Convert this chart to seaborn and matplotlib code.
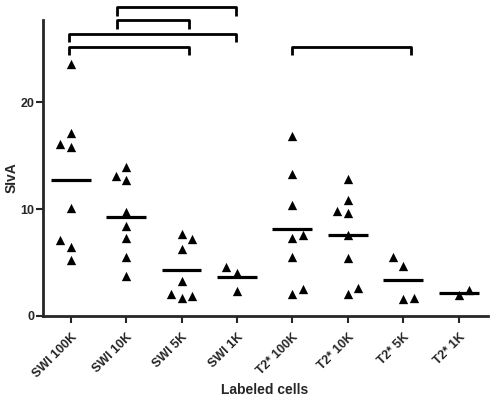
import numpy as np
import pandas as pd
import seaborn as sns
import matplotlib.pyplot as plt

groups = ['SWI 100K', 'SWI 10K', 'SWI 5K', 'SWI 1K',
          'T2* 100K', 'T2* 10K', 'T2* 5K', 'T2* 1K']

swi_100k = [23.6, 17.1, 16.1, 15.8, 10.1, 7.1, 6.5, 5.2]
swi_10k = [13.9, 13.1, 12.7, 9.7, 8.4, 7.3, 5.5, 3.7]
swi_5k = [7.7, 7.2, 6.3, 3.3, 2.1, 1.65, 1.9]
swi_1k = [4.6, 4.05, 2.3]
t2_100k = [16.85, 13.3, 10.35, 7.26, 7.6, 5.5, 2.05, 2.5]
t2_10k = [12.8, 10.9, 9.85, 9.6, 7.55, 5.4, 2.1, 2.65]
t2_5k = [5.5, 4.7, 1.55, 1.7]
t2_1k = [1.96, 2.43]

# column-scatter slot of each point (-1 left, 0 centre, 1 right)
swi_100k_slot = [0, 0, -1, 0, 0, -1, 0, 0]
swi_10k_slot = [0, -1, 0, 0, 0, 0, 0, 0]
swi_5k_slot = [0, 1, 0, 0, -1, 0, 1]
swi_1k_slot = [-1, 0, 0]
t2_100k_slot = [0, 0, 0, 0, 1, 0, 0, 1]
t2_10k_slot = [0, 0, -1, 0, 0, 0, 0, 1]
t2_5k_slot = [-1, 0, 0, 1]
t2_1k_slot = [0, 1]

# significance brackets: (x start, x end, y bar, y leg end)
brackets = [
    (0.84, 2.99, 28.9, 28.1),
    (0.84, 2.13, 27.7, 26.9),
    (-0.03, 2.99, 26.4, 25.6),
    (-0.03, 2.13, 25.2, 24.4),
    (3.99, 6.14, 25.2, 24.4),
]

values = [swi_100k, swi_10k, swi_5k, swi_1k, t2_100k, t2_10k, t2_5k, t2_1k]
slots = [swi_100k_slot, swi_10k_slot, swi_5k_slot, swi_1k_slot,
         t2_100k_slot, t2_10k_slot, t2_5k_slot, t2_1k_slot]

rows = []
for i, (g, vals, sl) in enumerate(zip(groups, values, slots)):
    for v, s in zip(vals, sl):
        rows.append({'group': g, 'pos': i + s * 0.19, 'idx': i, 'SIvA': v})
df = pd.DataFrame(rows)

sns.set_style('ticks')
plt.rcParams['font.family'] = ['Liberation Sans', 'DejaVu Sans']
plt.rcParams['font.weight'] = 'bold'

fig = plt.figure(figsize=(4.99, 4.01), dpi=100)
ax = fig.add_axes([43 / 499, 85 / 401, 445 / 499, 296 / 401])

sns.scatterplot(data=df, x='pos', y='SIvA', marker='^', color='black',
                s=45, edgecolor='black', linewidth=0, ax=ax, legend=False)

means = df.groupby('idx')['SIvA'].mean()
ax.hlines(means.values, means.index - 0.36, means.index + 0.36,
          color='black', linewidth=2.3)

for x0, x1, yb, yl in brackets:
    ax.plot([x0, x0, x1, x1], [yl, yb, yb, yl], color='black',
            linewidth=2, clip_on=False, solid_capstyle='butt')

ax.set_xlim(-0.5, 7.53)
ax.set_ylim(0, 27.7)
ax.set_xticks(range(len(groups)))
ax.set_xticklabels(groups, rotation=45, ha='right', rotation_mode='anchor',
                   fontsize=9, fontweight='bold')
ax.set_yticks([0, 10, 20])
ax.tick_params(axis='y', labelsize=9, width=1.5, length=5, pad=1)
ax.tick_params(axis='x', width=1.5, length=5, pad=6)
for lab in ax.get_yticklabels():
    lab.set_fontweight('bold')
ax.set_xlabel('Labeled cells', fontsize=10, fontweight='bold')
ax.set_ylabel('SIvA', fontsize=10, fontweight='bold')
ax.xaxis.set_label_coords(0.497, -0.225)
ax.yaxis.set_label_coords(-0.056, 0.466)
sns.despine(ax=ax)
for sp in ['left', 'bottom']:
    ax.spines[sp].set_linewidth(2)

fig.savefig('out.png', dpi=100)
plt.close(fig)
